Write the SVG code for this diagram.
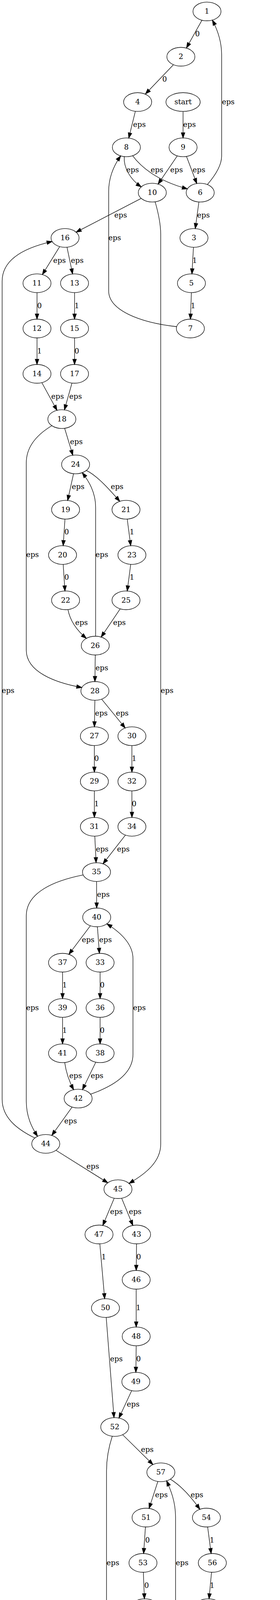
<svg xmlns="http://www.w3.org/2000/svg" width="716" height="7047" viewBox="0 0 716 7047">
<style>
text{font-family:"DejaVu Serif","Liberation Serif",serif;font-size:18.67px;text-anchor:middle;fill:#000}
.node ellipse{fill:none;stroke:#000;stroke-width:1.33}
.edge path{fill:none;stroke:#000;stroke-width:1.33;marker-end:url(#arr)}
</style>
<defs>
<marker id="arr" viewBox="0 0 13.33 9.33" refX="13.33" refY="4.67" markerWidth="13.33" markerHeight="9.33" orient="auto" markerUnits="userSpaceOnUse" overflow="visible">
<path d="M0,0 L13.33,4.67 L0,9.33 Z" fill="#000" stroke="#000" stroke-width="1.33"/>
</marker>
</defs>
<rect x="0" y="0" width="716" height="7047" fill="#fff"/>
<g id="graph" transform="matrix(0.996 0 0 0.99967 0 0)">
<g id="nodes">
<g id="node-1" class="node"><ellipse cx="531.4" cy="29.3" rx="36" ry="24"/><text x="531.4" y="35.1">1</text></g>
<g id="node-2" class="node"><ellipse cx="464.4" cy="145.3" rx="36" ry="24"/><text x="464.4" y="151.1">2</text></g>
<g id="node-4" class="node"><ellipse cx="353.4" cy="261.3" rx="36" ry="24"/><text x="353.4" y="267.1">4</text></g>
<g id="node-start" class="node"><ellipse cx="470" cy="261.3" rx="44" ry="24"/><text x="470" y="267.1">start</text></g>
<g id="node-8" class="node"><ellipse cx="324.5" cy="377.3" rx="36" ry="24"/><text x="324.5" y="383.1">8</text></g>
<g id="node-9" class="node"><ellipse cx="470" cy="377.3" rx="36" ry="24"/><text x="470" y="383.1">9</text></g>
<g id="node-10" class="node"><ellipse cx="391" cy="493.3" rx="36" ry="24"/><text x="391" y="499.1">10</text></g>
<g id="node-6" class="node"><ellipse cx="514" cy="493.3" rx="36" ry="24"/><text x="514" y="499.1">6</text></g>
<g id="node-16" class="node"><ellipse cx="167" cy="609.3" rx="36" ry="24"/><text x="167" y="615.1">16</text></g>
<g id="node-3" class="node"><ellipse cx="498" cy="609.3" rx="36" ry="24"/><text x="498" y="615.1">3</text></g>
<g id="node-11" class="node"><ellipse cx="95" cy="725.3" rx="36" ry="24"/><text x="95" y="731.1">11</text></g>
<g id="node-13" class="node"><ellipse cx="191.4" cy="725.3" rx="36" ry="24"/><text x="191.4" y="731.1">13</text></g>
<g id="node-5" class="node"><ellipse cx="491.5" cy="725.3" rx="36" ry="24"/><text x="491.5" y="731.1">5</text></g>
<g id="node-12" class="node"><ellipse cx="95" cy="841.3" rx="36" ry="24"/><text x="95" y="847.1">12</text></g>
<g id="node-15" class="node"><ellipse cx="191.4" cy="841.3" rx="36" ry="24"/><text x="191.4" y="847.1">15</text></g>
<g id="node-7" class="node"><ellipse cx="488.8" cy="841.3" rx="36" ry="24"/><text x="488.8" y="847.1">7</text></g>
<g id="node-14" class="node"><ellipse cx="95" cy="957.3" rx="36" ry="24"/><text x="95" y="963.1">14</text></g>
<g id="node-17" class="node"><ellipse cx="191.4" cy="957.3" rx="36" ry="24"/><text x="191.4" y="963.1">17</text></g>
<g id="node-18" class="node"><ellipse cx="158.8" cy="1073.3" rx="36" ry="24"/><text x="158.8" y="1079.1">18</text></g>
<g id="node-24" class="node"><ellipse cx="194.1" cy="1189.3" rx="36" ry="24"/><text x="194.1" y="1195.1">24</text></g>
<g id="node-19" class="node"><ellipse cx="168.4" cy="1305.3" rx="36" ry="24"/><text x="168.4" y="1311.1">19</text></g>
<g id="node-21" class="node"><ellipse cx="323.5" cy="1305.3" rx="36" ry="24"/><text x="323.5" y="1311.1">21</text></g>
<g id="node-20" class="node"><ellipse cx="160.6" cy="1421.3" rx="36" ry="24"/><text x="160.6" y="1427.1">20</text></g>
<g id="node-23" class="node"><ellipse cx="338.7" cy="1421.3" rx="36" ry="24"/><text x="338.7" y="1427.1">23</text></g>
<g id="node-22" class="node"><ellipse cx="168.4" cy="1537.3" rx="36" ry="24"/><text x="168.4" y="1543.1">22</text></g>
<g id="node-25" class="node"><ellipse cx="323.5" cy="1537.3" rx="36" ry="24"/><text x="323.5" y="1543.1">25</text></g>
<g id="node-26" class="node"><ellipse cx="244.6" cy="1653.3" rx="36" ry="24"/><text x="244.6" y="1659.1">26</text></g>
<g id="node-28" class="node"><ellipse cx="243.7" cy="1769.3" rx="36" ry="24"/><text x="243.7" y="1775.1">28</text></g>
<g id="node-27" class="node"><ellipse cx="242.3" cy="1885.3" rx="36" ry="24"/><text x="242.3" y="1891.1">27</text></g>
<g id="node-30" class="node"><ellipse cx="338.7" cy="1885.3" rx="36" ry="24"/><text x="338.7" y="1891.1">30</text></g>
<g id="node-29" class="node"><ellipse cx="242.3" cy="2001.3" rx="36" ry="24"/><text x="242.3" y="2007.1">29</text></g>
<g id="node-32" class="node"><ellipse cx="338.7" cy="2001.3" rx="36" ry="24"/><text x="338.7" y="2007.1">32</text></g>
<g id="node-31" class="node"><ellipse cx="242.3" cy="2117.3" rx="36" ry="24"/><text x="242.3" y="2123.1">31</text></g>
<g id="node-34" class="node"><ellipse cx="338.7" cy="2117.3" rx="36" ry="24"/><text x="338.7" y="2123.1">34</text></g>
<g id="node-35" class="node"><ellipse cx="247.8" cy="2233.3" rx="36" ry="24"/><text x="247.8" y="2239.1">35</text></g>
<g id="node-40" class="node"><ellipse cx="248.3" cy="2349.3" rx="36" ry="24"/><text x="248.3" y="2355.1">40</text></g>
<g id="node-37" class="node"><ellipse cx="160.6" cy="2465.3" rx="36" ry="24"/><text x="160.6" y="2471.1">37</text></g>
<g id="node-33" class="node"><ellipse cx="257" cy="2465.3" rx="36" ry="24"/><text x="257" y="2471.1">33</text></g>
<g id="node-39" class="node"><ellipse cx="160.6" cy="2581.3" rx="36" ry="24"/><text x="160.6" y="2587.1">39</text></g>
<g id="node-36" class="node"><ellipse cx="257" cy="2581.3" rx="36" ry="24"/><text x="257" y="2587.1">36</text></g>
<g id="node-41" class="node"><ellipse cx="160.6" cy="2697.3" rx="36" ry="24"/><text x="160.6" y="2703.1">41</text></g>
<g id="node-38" class="node"><ellipse cx="257" cy="2697.3" rx="36" ry="24"/><text x="257" y="2703.1">38</text></g>
<g id="node-42" class="node"><ellipse cx="200.6" cy="2813.3" rx="36" ry="24"/><text x="200.6" y="2819.1">42</text></g>
<g id="node-44" class="node"><ellipse cx="117.5" cy="2929.3" rx="36" ry="24"/><text x="117.5" y="2935.1">44</text></g>
<g id="node-45" class="node"><ellipse cx="302.9" cy="3045.3" rx="36" ry="24"/><text x="302.9" y="3051.1">45</text></g>
<g id="node-47" class="node"><ellipse cx="254.2" cy="3161.3" rx="36" ry="24"/><text x="254.2" y="3167.1">47</text></g>
<g id="node-43" class="node"><ellipse cx="350.6" cy="3161.3" rx="36" ry="24"/><text x="350.6" y="3167.1">43</text></g>
<g id="node-46" class="node"><ellipse cx="349.7" cy="3277.3" rx="36" ry="24"/><text x="349.7" y="3283.1">46</text></g>
<g id="node-50" class="node"><ellipse cx="270.8" cy="3349.8" rx="36" ry="24"/><text x="270.8" y="3355.6">50</text></g>
<g id="node-48" class="node"><ellipse cx="349.7" cy="3422.3" rx="36" ry="24"/><text x="349.7" y="3428.1">48</text></g>
<g id="node-49" class="node"><ellipse cx="348.8" cy="3538.3" rx="36" ry="24"/><text x="348.8" y="3544.1">49</text></g>
<g id="node-52" class="node"><ellipse cx="294.6" cy="3654.3" rx="36" ry="24"/><text x="294.6" y="3660.1">52</text></g>
<g id="node-57" class="node"><ellipse cx="413" cy="3770.3" rx="36" ry="24"/><text x="413" y="3776.1">57</text></g>
<g id="node-51" class="node"><ellipse cx="375" cy="3886.3" rx="36" ry="24"/><text x="375" y="3892.1">51</text></g>
<g id="node-54" class="node"><ellipse cx="530" cy="3886.3" rx="36" ry="24"/><text x="530" y="3892.1">54</text></g>
<g id="node-53" class="node"><ellipse cx="367.1" cy="4002.3" rx="36" ry="24"/><text x="367.1" y="4008.1">53</text></g>
<g id="node-56" class="node"><ellipse cx="545.2" cy="4002.3" rx="36" ry="24"/><text x="545.2" y="4008.1">56</text></g>
<g id="node-55" class="node"><ellipse cx="371.7" cy="4118.3" rx="36" ry="24"/><text x="371.7" y="4124.1">55</text></g>
<g id="node-58" class="node"><ellipse cx="534.6" cy="4118.3" rx="36" ry="24"/><text x="534.6" y="4124.1">58</text></g>
<g id="node-59" class="node"><ellipse cx="419" cy="4234.3" rx="36" ry="24"/><text x="419" y="4240.1">59</text></g>
<g id="node-61" class="node"><ellipse cx="294.6" cy="4350.3" rx="36" ry="24"/><text x="294.6" y="4356.1">61</text></g>
<g id="node-67" class="node"><ellipse cx="550.7" cy="4466.3" rx="36" ry="24"/><text x="550.7" y="4472.1">67</text></g>
<g id="node-62" class="node"><ellipse cx="509.9" cy="4582.3" rx="36" ry="24"/><text x="509.9" y="4588.1">62</text></g>
<g id="node-64" class="node"><ellipse cx="606.7" cy="4582.3" rx="36" ry="24"/><text x="606.7" y="4588.1">64</text></g>
<g id="node-63" class="node"><ellipse cx="509.9" cy="4698.3" rx="36" ry="24"/><text x="509.9" y="4704.1">63</text></g>
<g id="node-66" class="node"><ellipse cx="606.7" cy="4698.3" rx="36" ry="24"/><text x="606.7" y="4704.1">66</text></g>
<g id="node-65" class="node"><ellipse cx="509.9" cy="4814.3" rx="36" ry="24"/><text x="509.9" y="4820.1">65</text></g>
<g id="node-68" class="node"><ellipse cx="606.7" cy="4814.3" rx="36" ry="24"/><text x="606.7" y="4820.1">68</text></g>
<g id="node-69" class="node"><ellipse cx="555.8" cy="4930.3" rx="36" ry="24"/><text x="555.8" y="4936.1">69</text></g>
<g id="node-75" class="node"><ellipse cx="476.8" cy="5046.3" rx="36" ry="24"/><text x="476.8" y="5052.1">75</text></g>
<g id="node-72" class="node"><ellipse cx="428.6" cy="5162.3" rx="36" ry="24"/><text x="428.6" y="5168.1">72</text></g>
<g id="node-70" class="node"><ellipse cx="525" cy="5162.3" rx="36" ry="24"/><text x="525" y="5168.1">70</text></g>
<g id="node-74" class="node"><ellipse cx="428.6" cy="5278.3" rx="36" ry="24"/><text x="428.6" y="5284.1">74</text></g>
<g id="node-71" class="node"><ellipse cx="525" cy="5278.3" rx="36" ry="24"/><text x="525" y="5284.1">71</text></g>
<g id="node-76" class="node"><ellipse cx="428.6" cy="5394.3" rx="36" ry="24"/><text x="428.6" y="5400.1">76</text></g>
<g id="node-73" class="node"><ellipse cx="525" cy="5394.3" rx="36" ry="24"/><text x="525" y="5400.1">73</text></g>
<g id="node-77" class="node"><ellipse cx="472.7" cy="5510.3" rx="36" ry="24"/><text x="472.7" y="5516.1">77</text></g>
<g id="node-79" class="node"><ellipse cx="558.5" cy="5626.3" rx="36" ry="24"/><text x="558.5" y="5632.1">79</text></g>
<g id="node-81" class="node"><ellipse cx="490.1" cy="5742.3" rx="36" ry="24"/><text x="490.1" y="5748.1">81</text></g>
<g id="node-78" class="node"><ellipse cx="586.5" cy="5742.3" rx="36" ry="24"/><text x="586.5" y="5748.1">78</text></g>
<g id="node-83" class="node"><ellipse cx="490.1" cy="5858.3" rx="36" ry="24"/><text x="490.1" y="5864.1">83</text></g>
<g id="node-80" class="node"><ellipse cx="586.5" cy="5858.3" rx="36" ry="24"/><text x="586.5" y="5864.1">80</text></g>
<g id="node-85" class="node"><ellipse cx="490.1" cy="5974.3" rx="36" ry="24"/><text x="490.1" y="5980.1">85</text></g>
<g id="node-82" class="node"><ellipse cx="586.5" cy="5974.3" rx="36" ry="24"/><text x="586.5" y="5980.1">82</text></g>
<g id="node-86" class="node"><ellipse cx="494.3" cy="6090.3" rx="36" ry="24"/><text x="494.3" y="6096.1">86</text></g>
<g id="node-91" class="node"><ellipse cx="502" cy="6206.3" rx="36" ry="24"/><text x="502" y="6212.1">91</text></g>
<g id="node-84" class="node"><ellipse cx="436.4" cy="6322.3" rx="36" ry="24"/><text x="436.4" y="6328.1">84</text></g>
<g id="node-88" class="node"><ellipse cx="592" cy="6322.3" rx="36" ry="24"/><text x="592" y="6328.1">88</text></g>
<g id="node-87" class="node"><ellipse cx="428.6" cy="6438.3" rx="36" ry="24"/><text x="428.6" y="6444.1">87</text></g>
<g id="node-90" class="node"><ellipse cx="606.2" cy="6438.3" rx="36" ry="24"/><text x="606.2" y="6444.1">90</text></g>
<g id="node-89" class="node"><ellipse cx="436.4" cy="6554.3" rx="36" ry="24"/><text x="436.4" y="6560.1">89</text></g>
<g id="node-92" class="node"><ellipse cx="597" cy="6554.3" rx="36" ry="24"/><text x="597" y="6560.1">92</text></g>
<g id="node-93" class="node"><ellipse cx="492.9" cy="6670.3" rx="36" ry="24"/><text x="492.9" y="6676.1">93</text></g>
<g id="node-95" class="node"><ellipse cx="429.6" cy="6786.3" rx="36" ry="24"/><text x="429.6" y="6792.1">95</text></g>
<g id="node-96" class="node"><ellipse cx="294.6" cy="6902.3" rx="36" ry="24"/><text x="294.6" y="6908.1">96</text></g>
<g id="node-end" class="node"><ellipse cx="294.6" cy="7018.3" rx="37.7" ry="24"/><text x="294.6" y="7024.1">end</text></g>
</g>
<g id="edges">
<g class="edge" id="e1-2"><path d="M518.5,51.7 L478.8,122.6"/><text x="507" y="92.9">0</text></g>
<g class="edge" id="e2-4"><path d="M445,166 L373.5,240.5"/><text x="422.7" y="208.9">0</text></g>
<g class="edge" id="e6-1"><path d="M532.4,472.7 C552,450 569,425 569,400 L569,140 C569,100 555,70 545.2,51.5"/><text x="586" y="266.9">eps</text></g>
<g class="edge" id="estart-9"><path d="M470,285.3 L470,353.3"/><text x="486.5" y="324.9">eps</text></g>
<g class="edge" id="e4-8"><path d="M347.5,285 L330.6,353.6"/><text x="358" y="324.9">eps</text></g>
<g class="edge" id="e8-10"><path d="M319,401 C317,430 335,460 362.6,478.5"/><text x="340.5" y="440.9">eps</text></g>
<g class="edge" id="e8-6"><path d="M340.5,398.8 C360,425 400,462 481,483.6"/><text x="403" y="440.9">eps</text></g>
<g class="edge" id="e9-10"><path d="M455.1,399.2 L405.9,471.4"/><text x="453.4" y="440.9">eps</text></g>
<g class="edge" id="e9-6"><path d="M478.8,400.6 L505.2,470"/><text x="510.8" y="440.9">eps</text></g>
<g class="edge" id="e10-16"><path d="M362.6,508 L195.4,594.6"/><text x="309.8" y="556.9">eps</text></g>
<g class="edge" id="e10-45"><path d="M398.3,516.8 C405,540 412.6,570 412.6,600 L412.6,2930 C412.6,2975 375,3005 331.3,3030.5"/><text x="429" y="1774.9">eps</text></g>
<g class="edge" id="e6-3"><path d="M510.7,517.2 L501.3,585.4"/><text x="522.3" y="556.9">eps</text></g>
<g class="edge" id="e7-8"><path d="M453.5,836.5 C360,826 279,795 279,745 L279,490 C279,450 295,420 309.8,399.2"/><text x="294.6" y="614.9">eps</text></g>
<g class="edge" id="e3-5"><path d="M496.7,633.2 L492.8,701.4"/><text x="499.8" y="672.9">1</text></g>
<g class="edge" id="e5-7"><path d="M491.4,749.3 L488.9,817.3"/><text x="495.6" y="788.9">1</text></g>
<g class="edge" id="e16-11"><path d="M153.2,631.5 L108.8,703.1"/><text x="152.8" y="672.9">eps</text></g>
<g class="edge" id="e16-13"><path d="M172,633.1 L186.4,701.5"/><text x="198.3" y="672.9">eps</text></g>
<g class="edge" id="e11-12"><path d="M95,749.3 L95,817.3"/><text x="101.4" y="788.9">0</text></g>
<g class="edge" id="e13-15"><path d="M191.4,749.3 L191.4,817.3"/><text x="197.3" y="788.9">1</text></g>
<g class="edge" id="e12-14"><path d="M95,865.3 L95,933.3"/><text x="101.4" y="904.9">1</text></g>
<g class="edge" id="e15-17"><path d="M191.4,865.3 L191.4,933.3"/><text x="197.3" y="904.9">0</text></g>
<g class="edge" id="e14-18"><path d="M107.4,979.8 L146.4,1050.8"/><text x="147.8" y="1020.9">eps</text></g>
<g class="edge" id="e17-18"><path d="M184.8,980.9 L165.4,1049.7"/><text x="194.1" y="1020.9">eps</text></g>
<g class="edge" id="e44-16"><path d="M89.5,2914.2 C40,2890 5.5,2860 5.5,2815 L5.5,720 C5.5,665 60,635 133.7,618.5"/><text x="20.7" y="1774.9">eps</text></g>
<g class="edge" id="e18-24"><path d="M166,1096.8 L186.9,1165.8"/><text x="196" y="1136.9">eps</text></g>
<g class="edge" id="e18-28"><path d="M133.1,1090.1 C100,1110 67.5,1140 67.5,1185 L67.5,1665 C67.5,1720 140,1748 210.1,1760.6"/><text x="83.5" y="1426.9">eps</text></g>
<g class="edge" id="e24-19"><path d="M188.8,1213 L173.7,1281.6"/><text x="200.6" y="1252.9">eps</text></g>
<g class="edge" id="e24-21"><path d="M221.7,1204.7 C250,1218 285,1258 307.5,1283.8"/><text x="300.6" y="1252.9">eps</text></g>
<g class="edge" id="e19-20"><path d="M166.8,1329.2 L162.2,1397.4"/><text x="171.2" y="1368.9">0</text></g>
<g class="edge" id="e21-23"><path d="M326.6,1329.2 L335.6,1397.4"/><text x="338.7" y="1368.9">1</text></g>
<g class="edge" id="e20-22"><path d="M162.2,1445.2 L166.8,1513.4"/><text x="171.2" y="1484.9">0</text></g>
<g class="edge" id="e23-25"><path d="M335.6,1445.2 L326.6,1513.4"/><text x="338.7" y="1484.9">1</text></g>
<g class="edge" id="e22-26"><path d="M174.4,1561 C180,1590 198,1615 221.7,1634.8"/><text x="209.3" y="1600.9">eps</text></g>
<g class="edge" id="e25-26"><path d="M308.6,1559.2 L259.7,1631.4"/><text x="306.6" y="1600.9">eps</text></g>
<g class="edge" id="e26-24"><path d="M245.5,1629.3 L245.5,1300 C245.5,1260 228,1232 211.1,1210.5"/><text x="261.6" y="1426.9">eps</text></g>
<g class="edge" id="e26-28"><path d="M244.6,1677.3 L243.7,1745.3"/><text x="261.6" y="1716.9">eps</text></g>
<g class="edge" id="e28-27"><path d="M243.6,1793.3 L242.4,1861.3"/><text x="260.2" y="1832.9">eps</text></g>
<g class="edge" id="e28-30"><path d="M261,1790.4 L321.4,1864.2"/><text x="313.9" y="1832.9">eps</text></g>
<g class="edge" id="e27-29"><path d="M242.3,1909.3 L242.3,1977.3"/><text x="247.8" y="1948.9">0</text></g>
<g class="edge" id="e30-32"><path d="M338.7,1909.3 L338.7,1977.3"/><text x="344.2" y="1948.9">1</text></g>
<g class="edge" id="e29-31"><path d="M242.3,2025.3 L242.3,2093.3"/><text x="247.8" y="2064.9">1</text></g>
<g class="edge" id="e32-34"><path d="M338.7,2025.3 L338.7,2093.3"/><text x="344.2" y="2064.9">0</text></g>
<g class="edge" id="e31-35"><path d="M243.4,2141.3 L246.7,2209.3"/><text x="262.5" y="2180.9">eps</text></g>
<g class="edge" id="e34-35"><path d="M322,2138.6 L264.5,2212"/><text x="316.7" y="2180.9">eps</text></g>
<g class="edge" id="e35-40"><path d="M247.9,2257.3 L248.2,2325.3"/><text x="265.3" y="2296.9">eps</text></g>
<g class="edge" id="e35-44"><path d="M213.5,2240.6 C140,2255 67.5,2285 67.5,2345 L67.5,2820 C67.5,2860 82,2888 96.4,2909.9"/><text x="83.5" y="2586.9">eps</text></g>
<g class="edge" id="e40-37"><path d="M232.1,2370.7 L176.8,2443.9"/><text x="226.3" y="2412.9">eps</text></g>
<g class="edge" id="e40-33"><path d="M250.1,2373.2 L255.2,2441.4"/><text x="270.8" y="2412.9">eps</text></g>
<g class="edge" id="e37-39"><path d="M160.6,2489.3 L160.6,2557.3"/><text x="166.1" y="2528.9">1</text></g>
<g class="edge" id="e33-36"><path d="M257,2489.3 L257,2557.3"/><text x="262.5" y="2528.9">0</text></g>
<g class="edge" id="e39-41"><path d="M160.6,2605.3 L160.6,2673.3"/><text x="166.1" y="2644.9">1</text></g>
<g class="edge" id="e36-38"><path d="M257,2605.3 L257,2673.3"/><text x="262.5" y="2644.9">0</text></g>
<g class="edge" id="e41-42"><path d="M166.1,2721 C170,2748 178,2770 189.1,2790.6"/><text x="194.1" y="2760.9">eps</text></g>
<g class="edge" id="e38-42"><path d="M245.9,2720.1 L211.7,2790.5"/><text x="249.2" y="2760.9">eps</text></g>
<g class="edge" id="e42-40"><path d="M232.4,2802.1 C290,2782 341.4,2750 341.4,2700 L341.4,2455 C341.4,2415 305,2385 274.4,2365.8"/><text x="358" y="2586.9">eps</text></g>
<g class="edge" id="e42-44"><path d="M185.1,2835 L133,2907.6"/><text x="181.3" y="2876.9">eps</text></g>
<g class="edge" id="e44-45"><path d="M143.7,2945.7 L276.7,3028.9"/><text x="238.2" y="2992.9">eps</text></g>
<g class="edge" id="e45-47"><path d="M293.2,3068.4 L263.9,3138.2"/><text x="298.8" y="3108.9">eps</text></g>
<g class="edge" id="e45-43"><path d="M312.4,3068.4 L341.1,3138.2"/><text x="347" y="3108.9">eps</text></g>
<g class="edge" id="e47-50"><path d="M256.3,3185.3 L268.7,3325.8"/><text x="266.6" y="3224.9">1</text></g>
<g class="edge" id="e43-46"><path d="M350.6,3185.3 L349.7,3253.3"/><text x="356.1" y="3224.9">0</text></g>
<g class="edge" id="e46-48"><path d="M349.7,3301.3 L349.7,3398.3"/><text x="355.2" y="3355.4">1</text></g>
<g class="edge" id="e48-49"><path d="M349.7,3446.3 L348.8,3514.3"/><text x="355.7" y="3485.9">0</text></g>
<g class="edge" id="e50-52"><path d="M272.7,3373.8 L292.7,3630.3"/><text x="298.8" y="3485.9">eps</text></g>
<g class="edge" id="e49-52"><path d="M338.1,3561.2 L305.3,3631.4"/><text x="341.9" y="3601.9">eps</text></g>
<g class="edge" id="e52-57"><path d="M314.9,3674.1 L392.7,3750.5"/><text x="378.2" y="3717.9">eps</text></g>
<g class="edge" id="e52-61"><path d="M288.2,3677.9 C281,3700 273.5,3730 273.5,3766 L273.5,4240 C273.5,4275 279,4300 285.9,4327"/><text x="290" y="4007.9">eps</text></g>
<g class="edge" id="e57-51"><path d="M405.3,3793.7 L382.7,3862.9"/><text x="414.4" y="3833.9">eps</text></g>
<g class="edge" id="e57-54"><path d="M437.4,3787.9 C465,3805 492,3835 513.1,3865.1"/><text x="505.7" y="3833.9">eps</text></g>
<g class="edge" id="e51-53"><path d="M373.4,3910.2 L368.7,3978.4"/><text x="378.6" y="3949.9">0</text></g>
<g class="edge" id="e54-56"><path d="M533.1,3910.2 L542.1,3978.4"/><text x="544.3" y="3949.9">1</text></g>
<g class="edge" id="e53-55"><path d="M368,4026.2 L370.8,4094.4"/><text x="376.3" y="4065.9">0</text></g>
<g class="edge" id="e56-58"><path d="M543.1,4026.2 L536.7,4094.4"/><text x="544.7" y="4065.9">1</text></g>
<g class="edge" id="e55-59"><path d="M381.1,4141.5 L409.6,4211.1"/><text x="415.3" y="4181.9">eps</text></g>
<g class="edge" id="e58-59"><path d="M514.7,4138.3 L438.9,4214.3"/><text x="505.7" y="4181.9">eps</text></g>
<g class="edge" id="e59-57"><path d="M431.4,4211.8 C442,4185 450.7,4160 450.7,4130 L450.7,3885 C450.7,3845 438,3815 427.7,3792.2"/><text x="467.6" y="4007.9">eps</text></g>
<g class="edge" id="e59-61"><path d="M398.1,4253.8 L315.5,4330.8"/><text x="381.8" y="4297.9">eps</text></g>
<g class="edge" id="e61-67"><path d="M324.4,4363.8 L520.9,4452.8"/><text x="454.3" y="4413.9">eps</text></g>
<g class="edge" id="e61-96"><path d="M288.2,4373.9 C281,4396 273.5,4426 273.5,4462 L273.5,6795 C273.5,6830 279,6855 285.5,6879.1"/><text x="290" y="5631.9">eps</text></g>
<g class="edge" id="e67-62"><path d="M535,4487.8 C526,4505 519,4530 516.3,4558.7"/><text x="543.8" y="4529.9">eps</text></g>
<g class="edge" id="e67-64"><path d="M562.2,4489 L596.6,4559.3"/><text x="598" y="4529.9">eps</text></g>
<g class="edge" id="e62-63"><path d="M509.9,4606.3 L509.9,4674.3"/><text x="516.3" y="4645.9">0</text></g>
<g class="edge" id="e64-66"><path d="M606.7,4606.3 L606.7,4674.3"/><text x="612.7" y="4645.9">1</text></g>
<g class="edge" id="e63-65"><path d="M509.9,4722.3 L509.9,4790.3"/><text x="516.3" y="4761.9">1</text></g>
<g class="edge" id="e66-68"><path d="M606.7,4722.3 L606.7,4790.3"/><text x="612.7" y="4761.9">0</text></g>
<g class="edge" id="e65-69"><path d="M514.9,4838.1 C518,4865 528,4888 540.6,4908.5"/><text x="543.8" y="4877.9">eps</text></g>
<g class="edge" id="e68-69"><path d="M596.6,4837.3 L565.9,4907.3"/><text x="599.8" y="4877.9">eps</text></g>
<g class="edge" id="e69-75"><path d="M540.9,4952.2 L491.7,5024.4"/><text x="537.9" y="4993.9">eps</text></g>
<g class="edge" id="e69-79"><path d="M572.7,4951.5 C592,4975 609.5,5005 609.5,5040 L609.5,5515 C609.5,5550 590,5580 573.7,5604.5"/><text x="626" y="5283.9">eps</text></g>
<g class="edge" id="e75-72"><path d="M467.2,5069.4 L438.2,5139.2"/><text x="471.3" y="5109.9">eps</text></g>
<g class="edge" id="e75-70"><path d="M486.4,5069.4 L515.4,5139.2"/><text x="520" y="5109.9">eps</text></g>
<g class="edge" id="e72-74"><path d="M428.6,5186.3 L428.6,5254.3"/><text x="434.1" y="5225.9">1</text></g>
<g class="edge" id="e70-71"><path d="M525,5186.3 L525,5254.3"/><text x="531" y="5225.9">0</text></g>
<g class="edge" id="e74-76"><path d="M428.6,5302.3 L428.6,5370.3"/><text x="434.1" y="5341.9">1</text></g>
<g class="edge" id="e71-73"><path d="M525,5302.3 L525,5370.3"/><text x="531" y="5341.9">0</text></g>
<g class="edge" id="e76-77"><path d="M433.7,5418.1 C437,5445 446,5468 458.9,5488.1"/><text x="462.6" y="5457.9">eps</text></g>
<g class="edge" id="e73-77"><path d="M514.6,5417.3 L483.1,5487.3"/><text x="517.7" y="5457.9">eps</text></g>
<g class="edge" id="e77-75"><path d="M439.5,5501 C380,5480 335,5450 335,5400 L335,5155 C335,5100 390,5072 444.2,5056.5"/><text x="351" y="5283.9">eps</text></g>
<g class="edge" id="e77-79"><path d="M488.6,5531.8 L542.6,5604.8"/><text x="535.1" y="5573.9">eps</text></g>
<g class="edge" id="e79-81"><path d="M545.3,5648.6 L503.3,5720"/><text x="543.8" y="5689.9">eps</text></g>
<g class="edge" id="e79-78"><path d="M564.2,5650 L580.8,5718.6"/><text x="589.7" y="5689.9">eps</text></g>
<g class="edge" id="e81-83"><path d="M490.1,5766.3 L490.1,5834.3"/><text x="495.6" y="5805.9">1</text></g>
<g class="edge" id="e78-80"><path d="M586.5,5766.3 L586.5,5834.3"/><text x="592.5" y="5805.9">0</text></g>
<g class="edge" id="e83-85"><path d="M490.1,5882.3 L490.1,5950.3"/><text x="495.6" y="5921.9">0</text></g>
<g class="edge" id="e80-82"><path d="M586.5,5882.3 L586.5,5950.3"/><text x="592.5" y="5921.9">1</text></g>
<g class="edge" id="e85-86"><path d="M491,5998.2 L493.4,6066.4"/><text x="507.6" y="6037.9">eps</text></g>
<g class="edge" id="e82-86"><path d="M569.6,5995.5 L511.2,6069.1"/><text x="562.2" y="6037.9">eps</text></g>
<g class="edge" id="e86-91"><path d="M495.9,6114.2 L500.4,6182.4"/><text x="514.5" y="6153.9">eps</text></g>
<g class="edge" id="e86-95"><path d="M460.6,6098.8 C400,6115 335,6145 335,6205 L335,6680 C335,6715 365,6745 403,6770.1"/><text x="351" y="6443.9">eps</text></g>
<g class="edge" id="e91-84"><path d="M481.9,6226.2 C465,6242 450,6268 442.9,6298.7"/><text x="477.3" y="6269.9">eps</text></g>
<g class="edge" id="e91-88"><path d="M518.5,6227.6 L575.5,6301"/><text x="567.7" y="6269.9">eps</text></g>
<g class="edge" id="e84-87"><path d="M434.8,6346.2 L430.2,6414.4"/><text x="439.7" y="6385.9">0</text></g>
<g class="edge" id="e88-90"><path d="M594.9,6346.2 L603.3,6414.4"/><text x="605.8" y="6385.9">1</text></g>
<g class="edge" id="e87-89"><path d="M430.2,6462.2 L434.8,6530.4"/><text x="439.7" y="6501.9">0</text></g>
<g class="edge" id="e90-92"><path d="M604.3,6462.2 L598.9,6530.4"/><text x="607.2" y="6501.9">1</text></g>
<g class="edge" id="e89-93"><path d="M443.3,6577.9 C450,6605 462,6628 477.3,6648.7"/><text x="477.3" y="6617.9">eps</text></g>
<g class="edge" id="e92-93"><path d="M578.5,6574.9 L511.4,6649.7"/><text x="566.8" y="6617.9">eps</text></g>
<g class="edge" id="e93-91"><path d="M500.2,6646.8 C507,6620 513,6595 513,6565 L513,6290 C513,6265 510,6245 507.1,6230"/><text x="529.6" y="6443.9">eps</text></g>
<g class="edge" id="e93-95"><path d="M480.6,6692.9 L441.9,6763.7"/><text x="481.4" y="6733.9">eps</text></g>
<g class="edge" id="e95-67"><path d="M465.6,6786.3 C600,6780 680.1,6740 680.1,6675 L680.1,4580 C680.1,4530 630,4500 582,4478.2"/><text x="696.7" y="5631.9">eps</text></g>
<g class="edge" id="e95-96"><path d="M407.5,6805.3 L316.5,6883.3"/><text x="386.9" y="6849.9">eps</text></g>
<g class="edge" id="e96-end"><path d="M294.6,6926.3 L294.6,6994.3"/><text x="310.7" y="6965.9">eps</text></g>
</g>
</g>
</svg>
